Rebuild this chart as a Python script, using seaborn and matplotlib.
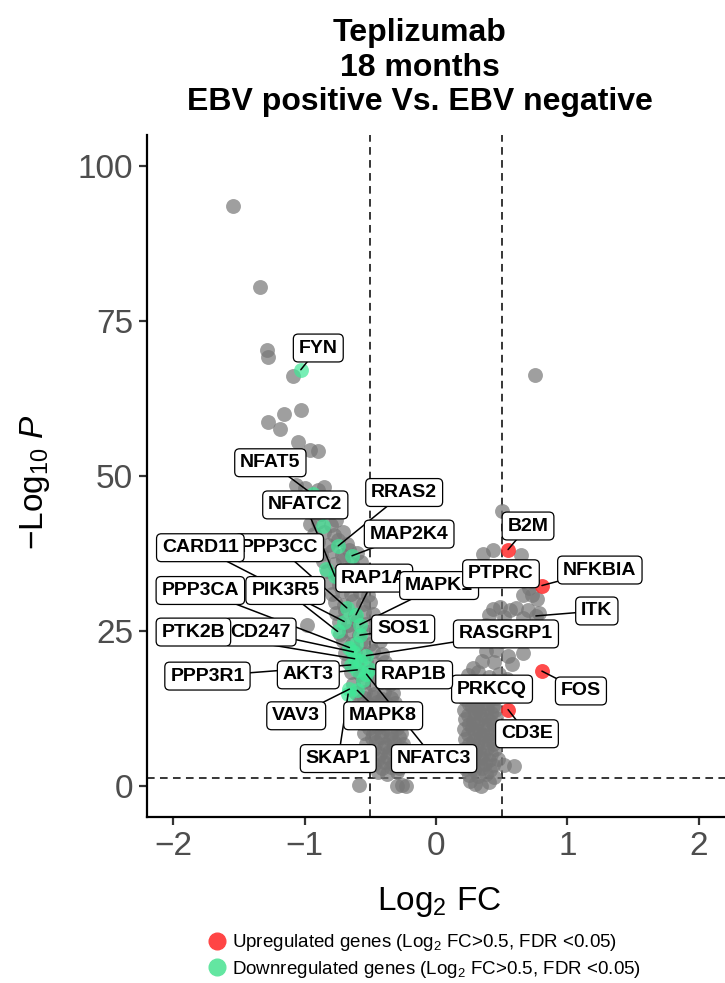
import numpy as np
import pandas as pd
import matplotlib
matplotlib.use('Agg')
import matplotlib.pyplot as plt
from matplotlib.lines import Line2D
import seaborn as sns

# nicht signifikante Gene (grau)
grey_fc = [-1.55, -1.34, -1.29, -1.28, -1.09, -1.03, -1.16, -1.28, -1.19, -1.05, -0.96, -0.90,
           -1.07, -1.00, -0.90, -0.85, 0.75,
           -0.98, -0.92, -0.86, -0.95, -0.88, -0.81, -0.96, -0.90, -0.80, -0.76,
           -0.93, -0.85, -0.78, -0.71, -0.90, -0.82, -0.75, -0.68,
           -0.88, -0.79, -0.72, -0.66, -0.60, -0.86, -0.78, -0.71, -0.64, -0.57,
           -0.83, -0.76, -0.69, -0.62, -0.55, -0.81, -0.74, -0.67, -0.60, -0.53,
           -0.79, -0.72, -0.65, -0.58, -0.52, -0.77, -0.70, -0.63, -0.56, -0.50,
           -0.76, -0.69, -0.62, -0.55, -0.48, -0.74, -0.67, -0.60, -0.53, -0.46, -0.98,
           -0.73, -0.66, -0.59, -0.52, -0.45, -0.71, -0.64, -0.57, -0.50, -0.43,
           -0.69, -0.62, -0.55, -0.48, -0.41, -0.67, -0.60, -0.53, -0.46, -0.39,
           -0.65, -0.58, -0.51, -0.44, -0.37, -0.63, -0.56, -0.49, -0.42, -0.35,
           -0.61, -0.54, -0.47, -0.40, -0.33, -0.59, -0.52, -0.45, -0.38, -0.31,
           -0.58, -0.51, -0.44, -0.37, -0.30, -0.56, -0.49, -0.42, -0.35, -0.29,
           -0.55, -0.48, -0.41, -0.34, -0.27, -0.53, -0.46, -0.39, -0.32, -0.25,
           -0.50, -0.43, -0.36, -0.29, -0.23, -0.47, -0.40, -0.33, -0.27,
           -0.44, -0.37, -0.30, -0.59, -0.30, -0.26, -0.23,
           0.50, 0.43, 0.36, 0.65, 0.66, 0.73, 0.71, 0.77,
           0.43, 0.49, 0.56, 0.61, 0.70, 0.78, 0.40, 0.52, 0.66,
           0.30, 0.38, 0.46, 0.55, 0.62, 0.34, 0.42, 0.50,
           0.38, 0.46, 0.55, 0.66, 0.35, 0.44, 0.58, 0.28,
           0.24, 0.32, 0.40, 0.48, 0.54, 0.22, 0.30, 0.38, 0.46,
           0.22, 0.28, 0.34, 0.40, 0.46, 0.21, 0.27, 0.33, 0.39, 0.45,
           0.22, 0.28, 0.34, 0.40, 0.46, 0.21, 0.27, 0.33, 0.39, 0.45,
           0.22, 0.28, 0.34, 0.40, 0.46, 0.21, 0.27, 0.33, 0.39, 0.45,
           0.22, 0.28, 0.34, 0.40, 0.47, 0.23, 0.29, 0.35, 0.41, 0.52, 0.59,
           0.26, 0.30, 0.34, 0.40]
grey_p = [93.5, 80.5, 70.3, 69.1, 66.1, 60.6, 60.0, 58.7, 57.6, 55.5, 54.2, 54.0,
          48.5, 48.1, 47.7, 48.2, 66.3,
          46.2, 45.5, 46.0, 44.1, 43.8, 44.4, 42.3, 42.6, 42.0, 42.9,
          40.6, 41.0, 40.5, 40.9, 39.3, 38.8, 39.6, 39.0,
          37.4, 37.9, 37.2, 38.1, 37.5, 36.2, 35.7, 36.4, 35.8, 36.1,
          34.6, 34.1, 34.8, 34.2, 34.5, 32.9, 32.4, 33.0, 32.5, 32.8,
          31.0, 31.4, 30.9, 31.3, 30.8, 29.7, 29.2, 29.8, 29.3, 29.6,
          27.8, 28.2, 27.6, 28.0, 27.7, 26.5, 26.0, 26.6, 26.1, 26.4, 26.0,
          24.5, 24.9, 24.4, 24.8, 24.6, 23.3, 22.8, 23.2, 22.9, 23.4,
          21.4, 21.8, 21.3, 21.7, 21.2, 19.9, 19.5, 20.0, 19.6, 19.9,
          18.3, 18.0, 18.4, 17.9, 18.2, 16.5, 16.8, 16.4, 16.7, 16.5,
          14.9, 15.2, 14.8, 15.1, 14.9, 13.5, 13.2, 13.6, 13.3, 13.4,
          11.7, 12.0, 11.6, 11.9, 11.7, 10.1, 10.4, 10.0, 10.3, 10.1,
          8.6, 8.3, 8.7, 8.4, 8.6, 6.8, 7.1, 6.7, 7.0, 6.8,
          5.4, 5.1, 5.5, 5.2, 5.4, 3.6, 3.9, 3.5, 3.8,
          2.2, 1.9, 2.3, 0.1, 0.0, 0.2, 0.0,
          44.3, 38.0, 37.4, 37.3, 30.8, 30.8, 31.9, 30.2,
          28.5, 28.9, 28.3, 28.7, 28.4, 27.8, 27.5, 27.2, 27.0,
          25.5, 25.9, 25.2, 25.6, 24.6, 23.6, 24.0, 23.4,
          21.7, 21.9, 21.0, 21.4, 20.2, 19.9, 19.6, 19.0,
          17.8, 18.3, 17.6, 18.1, 17.2, 15.9, 15.4, 16.0, 15.5,
          14.0, 13.6, 14.2, 13.8, 14.1, 12.3, 12.7, 12.1, 12.5, 12.2,
          10.8, 10.5, 11.0, 10.6, 10.9, 9.1, 9.4, 8.9, 9.3, 9.0,
          7.6, 7.3, 7.8, 7.4, 7.7, 5.9, 6.2, 5.8, 6.1, 5.9,
          4.4, 4.1, 4.5, 4.2, 4.3, 2.7, 2.5, 2.9, 2.6, 3.4, 3.2,
          0.8, 0.3, 0.0, 0.6]

# dicht gepackte Gene im unteren Bereich (grau)
grey_dicht_fc = [0.25, 0.31, 0.37, 0.43, 0.24, 0.30, 0.36, 0.42, 0.25, 0.31, 0.37, 0.43,
                 0.24, 0.30, 0.36, 0.42, 0.25, 0.31, 0.37, 0.43, 0.24, 0.30, 0.36, 0.42,
                 0.25, 0.31, 0.37, 0.43, 0.25, 0.32, 0.38, 0.44,
                 -0.55, -0.48, -0.41, -0.34, -0.54, -0.47, -0.40, -0.33,
                 -0.52, -0.45, -0.38, -0.31, -0.51, -0.44, -0.37, -0.30,
                 -0.49, -0.42, -0.35, -0.28, -0.47, -0.40, -0.33, -0.26,
                 -0.44, -0.37, -0.30, -0.41, -0.34, -0.28]
grey_dicht_p = [13.2, 12.9, 13.3, 12.9, 11.5, 11.8, 11.4, 11.7, 9.9, 10.1, 9.8, 10.0,
                8.3, 8.6, 8.2, 8.5, 6.8, 6.6, 7.0, 6.7, 5.1, 5.3, 5.0, 5.2,
                3.5, 3.3, 3.6, 3.4, 1.8, 1.6, 1.9, 1.5,
                14.1, 14.3, 14.0, 14.2, 12.6, 12.8, 12.5, 12.7,
                10.9, 11.1, 10.8, 11.0, 9.3, 9.5, 9.2, 9.4,
                7.7, 7.9, 7.6, 7.8, 6.0, 6.2, 5.9, 6.1,
                4.4, 4.6, 4.3, 2.9, 3.1, 2.8]

# beschriftete, nicht signifikante Gene
lab_grey_genes = ['PTPRC', 'ITK', 'PRKCQ']
lab_grey_fc = [0.45, 0.76, 0.38]
lab_grey_p = [34.0, 27.4, 15.8]

# herunterregulierte Gene (gruen)
down_genes = ['FYN', 'NFAT5', 'NFATC2', 'RRAS2', 'MAP2K4', 'PPP3CC', 'CARD11', 'RAP1A',
              'MAPK1', 'PIK3R5', 'PPP3CA', 'SOS1', 'CD247', 'PTK2B', 'RASGRP1', 'PPP3R1',
              'AKT3', 'RAP1B', 'VAV3', 'MAPK8', 'SKAP1', 'NFATC3', '', '', '', '', '']
down_fc = [-1.03, -0.94, -0.77, -0.745, -0.64, -0.68, -0.70, -0.61,
           -0.58, -0.75, -0.66, -0.58, -0.63, -0.62, -0.53, -0.65,
           -0.60, -0.51, -0.66, -0.60, -0.67, -0.53, -0.86, -0.84, -0.61, -0.58, -0.56]
down_p = [67.1, 47.0, 33.8, 38.7, 37.1, 28.7, 26.5, 27.6,
          26.0, 24.9, 22.3, 24.3, 21.6, 20.5, 21.0, 19.5,
          18.7, 18.9, 15.6, 15.4, 14.8, 18.0, 41.9, 35.0, 22.8, 20.2, 17.0]

# hochregulierte Gene (rot)
up_genes = ['B2M', 'NFKBIA', 'FOS', 'CD3E']
up_fc = [0.548, 0.806, 0.806, 0.548]
up_p = [38.1, 32.3, 18.5, 12.3]

# Position der Beschriftungen (Log2 FC, -log10 P), in Zeichenreihenfolge
label_pos = {
    'FYN': (-0.897, 70.6), 'NFAT5': (-1.262, 52.1), 'NFATC2': (-0.996, 45.3),
    'RRAS2': (-0.243, 47.3), 'MAP2K4': (-0.205, 40.6), 'PPP3CC': (-1.194, 38.4),
    'CARD11': (-1.795, 38.4), 'RAP1A': (-0.471, 33.5), 'MAPK1': (0.023, 32.3),
    'PIK3R5': (-1.148, 31.5), 'PPP3CA': (-1.795, 31.5), 'SOS1': (-0.251, 25.3),
    'CD247': (-1.338, 24.8), 'PTK2B': (-1.848, 24.8), 'RASGRP1': (0.532, 24.5),
    'PPP3R1': (-1.741, 17.7), 'AKT3': (-0.973, 17.9), 'PRKCQ': (0.426, 15.6),
    'RAP1B': (-0.167, 17.9), 'VAV3': (-1.065, 11.3), 'MAPK8': (-0.403, 11.3),
    'SKAP1': (-0.745, 4.4), 'NFATC3': (-0.015, 4.4), 'B2M': (0.700, 41.9),
    'PTPRC': (0.494, 34.2), 'NFKBIA': (1.247, 34.8), 'ITK': (1.224, 28.2),
    'FOS': (1.103, 15.3), 'CD3E': (0.692, 8.4),
}

df = pd.concat([
    pd.DataFrame({'gene': '', 'log2fc': grey_fc + grey_dicht_fc, 'p': grey_p + grey_dicht_p,
                  'gruppe': 'NS'}),
    pd.DataFrame({'gene': lab_grey_genes, 'log2fc': lab_grey_fc, 'p': lab_grey_p, 'gruppe': 'NS'}),
    pd.DataFrame({'gene': down_genes, 'log2fc': down_fc, 'p': down_p, 'gruppe': 'down'}),
    pd.DataFrame({'gene': up_genes, 'log2fc': up_fc, 'p': up_p, 'gruppe': 'up'}),
], ignore_index=True)

farben = {'NS': ('#777777', 0.7), 'down': ('#3ee896', 0.7), 'up': ('#ff2b2b', 0.85)}

sns.set_theme(style='ticks')
plt.rcParams['font.family'] = ['Liberation Sans', 'DejaVu Sans']
plt.rcParams['text.color'] = 'black'
plt.rcParams['mathtext.fontset'] = 'custom'
plt.rcParams['mathtext.rm'] = 'Liberation Sans'
plt.rcParams['mathtext.it'] = 'Liberation Sans:italic'
plt.rcParams['mathtext.bf'] = 'Liberation Sans:bold'

fig = plt.figure(figsize=(7.25, 9.83), dpi=100)
ax = fig.add_axes([0.203, 0.169, 0.797, 0.694])

for gruppe in ['NS', 'down', 'up']:
    farbe, alpha = farben[gruppe]
    sns.scatterplot(data=df[df['gruppe'] == gruppe], x='log2fc', y='p', color=farbe,
                    alpha=alpha, s=115, linewidth=0, ax=ax, legend=False)

# Schwellenwerte
ax.axvline(-0.5, color='black', lw=1.1, ls=(0, (5, 3.5)), zorder=0)
ax.axvline(0.5, color='black', lw=1.1, ls=(0, (5, 3.5)), zorder=0)
ax.axhline(1.3, color='black', lw=1.1, ls=(0, (5, 3.5)), zorder=0)

# Beschriftungen mit Verbindungslinien
punkte = df[df['gene'] != ''].set_index('gene')
for gen, (lx, ly) in label_pos.items():
    px, py = punkte.loc[gen, 'log2fc'], punkte.loc[gen, 'p']
    ax.plot([lx, px], [ly, py], color='black', lw=1.1, zorder=3)
    ax.text(lx, ly, gen, ha='center', va='center', fontsize=14, fontweight='bold',
            color='black', zorder=4,
            bbox=dict(boxstyle='round,pad=0.28,rounding_size=0.25',
                      fc='white', ec='black', lw=0.9))

ax.set_xlim(-2.2, 2.2)
ax.set_ylim(-5, 105)
ax.set_xticks([-2, -1, 0, 1, 2])
ax.set_yticks([0, 25, 50, 75, 100])
sns.despine(ax=ax)
for s in ['left', 'bottom']:
    ax.spines[s].set_linewidth(1.6)
    ax.spines[s].set_color('black')
ax.tick_params(length=6, width=1.6, color='#333333', labelsize=24, labelcolor='#4d4d4d', pad=4)

ax.set_xlabel(r'$\mathrm{Log_{2}}$ FC', fontsize=24, color='black')
ax.set_ylabel(r'$\mathrm{-Log_{10}}\ \mathit{P}$', fontsize=24, color='black')
ax.xaxis.set_label_coords(0.505, -0.1)
ax.yaxis.set_label_coords(-0.165, 0.49)

fig.text(0.579, 0.931, 'Teplizumab\n18 months\nEBV positive Vs. EBV negative',
         ha='center', va='center', fontsize=23, fontweight='bold', linespacing=1.2,
         color='black')

handles = [Line2D([], [], marker='o', ls='', color='#ff4545', markersize=12),
           Line2D([], [], marker='o', ls='', color='#63e6a1', markersize=12)]
labels = [r'Upregulated genes ($\mathrm{Log_2}$ FC>0.5, FDR <0.05)',
          r'Downregulated genes ($\mathrm{Log_2}$ FC>0.5, FDR <0.05)']
fig.legend(handles, labels, loc='center', bbox_to_anchor=(0.585, 0.0275), frameon=False,
           fontsize=13.5, handlelength=1.0, handletextpad=0.3, labelspacing=0.3, borderpad=0)

fig.savefig('out.png', dpi=100)
